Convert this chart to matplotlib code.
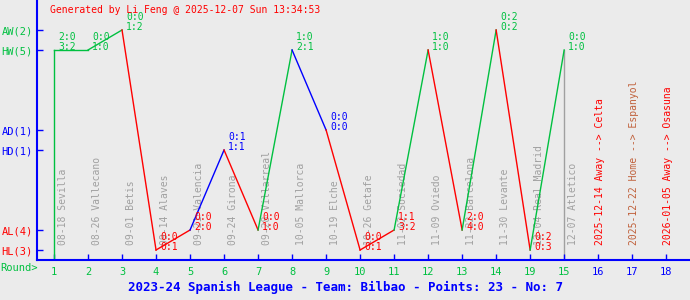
import matplotlib
matplotlib.use("Agg")
import matplotlib.pyplot as plt

# played rounds, in the order they were played
rounds = ['1', '2', '3', '4', '5', '6', '7', '8', '9', '10', '11', '12', '13', '14', '19', '15']
dates = ['08-18', '08-26', '09-01', '09-14', '09-21', '09-24', '09-28', '10-05',
         '10-19', '10-26', '11-02', '11-09', '11-22', '11-30', '12-04', '12-07']
opponents = ['Sevilla', 'Vallecano', 'Betis', 'Alaves', 'Valencia', 'Girona', 'Villarreal',
             'Mallorca', 'Elche', 'Getafe', 'Sociedad', 'Oviedo', 'Barcelona', 'Levante',
             'Real Madrid', 'Atletico']
venues = ['H', 'H', 'A', 'H', 'A', 'H', 'A', 'H', 'A', 'H', 'A', 'H', 'A', 'A', 'H', 'H']
results = ['W', 'W', 'W', 'L', 'L', 'D', 'L', 'W', 'D', 'L', 'L', 'W', 'L', 'W', 'L', 'W']
half_time = ['2:0', '0:0', '0:0', '0:0', '0:0', '0:1', '0:0', '1:0',
             '0:0', '0:0', '1:1', '1:0', '2:0', '0:2', '0:2', '0:0']
full_time = ['3:2', '1:0', '1:2', '0:1', '2:0', '1:1', '1:0', '2:1',
             '0:0', '0:1', '3:2', '1:0', '4:0', '0:2', '0:3', '1:0']

# upcoming fixtures
future_rounds = ['16', '17', '18']
future_fixtures = ['2025-12-14 Away --> Celta', '2025-12-22 Home --> Espanyol',
                   '2026-01-05 Away --> Osasuna']

levels = ['HL', 'AL', 'HD', 'AD', 'HW', 'AW']
level_y = {'HL': 0, 'AL': 1, 'HD': 5, 'AD': 6, 'HW': 10, 'AW': 11}

GREEN = '#00c040'
RED = '#ff0000'
BLUE = '#0000ff'
GRAY = '#a0a0a0'
HOME = '#c0603a'
res_color = {'W': GREEN, 'D': BLUE, 'L': RED}

plt.rcParams['font.family'] = ['DejaVu Sans Mono']

fig = plt.figure(figsize=(6.9, 3.0), dpi=100, facecolor='#ebebeb')
ax = fig.add_axes([37 / 690, 40 / 300, 653 / 690, 260 / 300])
ax.set_facecolor('#ebebeb')

ys = [level_y[v + r] for v, r in zip(venues, results)]
xs = list(range(1, len(rounds) + 1))

# first line rises from the bottom of the axis
prev_x, prev_y = xs[0], -0.5
for x, y, r in zip(xs, ys, results):
    ax.plot([prev_x, x], [prev_y, y], color=res_color[r], lw=1)
    prev_x, prev_y = x, y

# current round marker
ax.plot([xs[-1], xs[-1]], [-0.5, ys[-1]], color=GRAY, lw=1, zorder=1)

for x, y, r, ht, ft, d, o in zip(xs, ys, results, half_time, full_time, dates, opponents):
    c = res_color[r]
    ax.annotate(ft, (x, y), xytext=(3, 0), textcoords='offset points',
                color=c, fontsize=7, va='baseline', ha='left')
    ax.annotate(ht, (x, y), xytext=(3, 7.2), textcoords='offset points',
                color=c, fontsize=7, va='baseline', ha='left')
    ax.text(x + 0.25, 0.25, d + ' ' + o, rotation=90, color=GRAY, fontsize=7,
            ha='center', va='bottom', zorder=0)

fx = list(range(len(rounds) + 1, len(rounds) + 1 + len(future_rounds)))
for x, t in zip(fx, future_fixtures):
    ax.text(x + 0.05, 0.25, t, rotation=90, color=HOME if 'Home' in t else RED,
            fontsize=7, ha='center', va='bottom')

ax.set_xlim(0.5, 19.7)
ax.set_ylim(-0.5, 12.5)

ax.set_xticks(xs + fx)
ax.set_xticklabels(rounds + future_rounds)
for lbl in ax.get_xticklabels():
    lbl.set_color(BLUE if lbl.get_text() in future_rounds else GREEN)

counts = {lv: sum(1 for v, r in zip(venues, results) if v + r == lv) for lv in levels}
ax.set_yticks([level_y[lv] for lv in levels])
ax.set_yticklabels(['%s(%d)' % (lv, counts[lv]) for lv in levels])
for lbl, lv in zip(ax.get_yticklabels(), levels):
    lbl.set_color(res_color[lv[1]])

ax.tick_params(direction='in', length=4, width=1, color=BLUE, labelsize=7.5, pad=3)
ax.tick_params(axis='x', pad=5)
for s in ['top', 'right']:
    ax.spines[s].set_visible(False)
for s in ['left', 'bottom']:
    ax.spines[s].set_color(BLUE)
    ax.spines[s].set_linewidth(1.5)

fig.text(0.0, 1 - 268 / 300, 'Round>', color=GREEN, fontsize=7.5, ha='left', va='center')
fig.text(50 / 690, 1 - 10 / 300, 'Generated by Li Feng @ 2025-12-07 Sun 13:34:53',
         color=RED, fontsize=7, ha='left', va='center')
fig.text(0.5, 1 - 287 / 300,
         '2023-24 Spanish League - Team: Bilbao - Points: 23 - No: 7',
         color=BLUE, fontsize=9, fontweight='bold', ha='center', va='center')

fig.savefig('out.png', dpi=100, facecolor=fig.get_facecolor())
